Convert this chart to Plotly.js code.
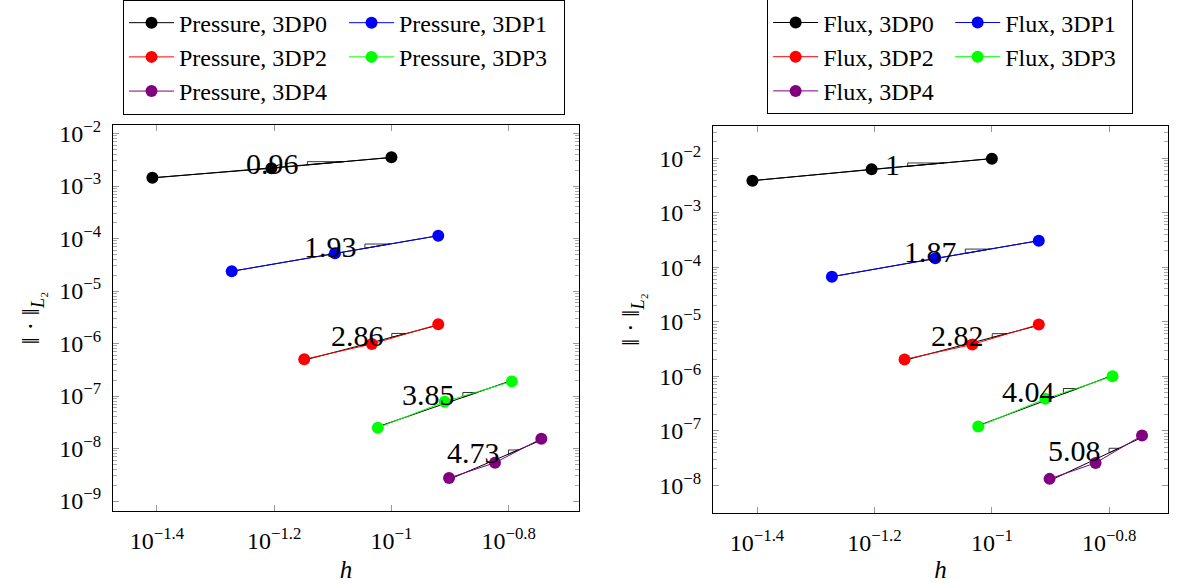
<!DOCTYPE html>
<html><head><meta charset="utf-8">
<script src="https://cdn.plot.ly/plotly-3.0.1.min.js"></script>
<style>
html,body{margin:0;padding:0;background:#fff;}
#wrap{display:flex;width:1178px;height:583px;}
#left,#right{width:589px;height:583px;}
</style>
</head><body>
<div id="wrap"><div id="left"></div><div id="right"></div></div>
<script>
// ---------- data ----------
const seriesNames = ['3DP0', '3DP1', '3DP2', '3DP3', '3DP4'];
const h0 = [0.0391, 0.0624, 0.1000];
const h1 = [0.0534, 0.0801, 0.1202];
const h2 = [0.0710, 0.0926, 0.1202];
const h3 = [0.0948, 0.1233, 0.1605];
const h4 = [0.1254, 0.1502, 0.1802];
const pressure0 = [1.44e-3, 2.17e-3, 3.52e-3];
const pressure1 = [2.37e-5, 5.22e-5, 1.13e-4];
const pressure2 = [5.0e-7, 9.77e-7, 2.32e-6];
const pressure3 = [2.49e-8, 7.79e-8, 1.90e-7];
const pressure4 = [2.74e-9, 5.37e-9, 1.54e-8];
const flux0 = [3.88e-3, 6.28e-3, 9.84e-3];
const flux1 = [6.7e-5, 1.46e-4, 3.07e-4];
const flux2 = [2.04e-6, 3.84e-6, 8.93e-6];
const flux3 = [1.20e-7, 3.85e-7, 1.00e-6];
const flux4 = [1.31e-8, 2.57e-8, 8.18e-8];
const pressureRates = ['0.96', '1.93', '2.86', '3.85', '4.73'];
const fluxRates = ['1', '1.87', '2.82', '4.04', '5.08'];
const xTickExp = ['−1.4', '−1.2', '−1', '−0.8'];
const xTickVals = [Math.pow(10, -1.4), Math.pow(10, -1.2), 0.1, Math.pow(10, -0.8)];

// ---------- style ----------
const colors = ['#000000', '#0000ff', '#ff0000', '#00ff00', '#800080'];
const FONT = 'Liberation Serif';
const triFrac = [[0.30, 0.60], [0.29, 0.53], [0.30, 0.52], [0.27, 0.48], [0.29, 0.50]];

const hs = [h0, h1, h2, h3, h4];
const L = Math.log10;

function fit(x, y) {
  const lx = x.map(L), ly = y.map(L), n = lx.length;
  const mx = lx.reduce((a, b) => a + b) / n, my = ly.reduce((a, b) => a + b) / n;
  let sxy = 0, sxx = 0;
  for (let i = 0; i < n; i++) { sxy += (lx[i] - mx) * (ly[i] - my); sxx += (lx[i] - mx) ** 2; }
  const b = sxy / sxx; return { a: my - b * mx, b: b };
}

function build(div, label, ys, rates, xr, yr, yDecades, margin, legendPos, entryW) {
  const traces = [], anns = [];
  ys.forEach((y, i) => {
    const h = hs[i], f = fit(h, y);
    const xs = [h[0], h[h.length - 1]];
    traces.push({ x: xs, y: xs.map(v => Math.pow(10, f.a + f.b * L(v))), mode: 'lines',
      line: { color: '#000', width: 1 }, showlegend: false, hoverinfo: 'skip' });
    const l2 = L(h[1]), l3 = L(h[2]);
    const xa = l2 + triFrac[i][0] * (l3 - l2), xb = l2 + triFrac[i][1] * (l3 - l2);
    const ya = f.a + f.b * xa, yb = f.a + f.b * xb;
    traces.push({ x: [xa, xa, xb, xa].map(v => Math.pow(10, v)), y: [ya, yb, yb, ya].map(v => Math.pow(10, v)),
      mode: 'lines', line: { color: '#000', width: 0.8 }, showlegend: false, hoverinfo: 'skip' });
    anns.push({ x: xa, y: (ya + yb) / 2, xref: 'x', yref: 'y', text: rates[i], showarrow: false,
      xanchor: 'right', yanchor: 'middle', xshift: -6, font: { family: FONT, size: 30, color: '#000' } });
  });
  ys.forEach((y, i) => {
    traces.push({ x: hs[i], y: y, mode: 'lines+markers', name: label + ', ' + seriesNames[i],
      line: { color: colors[i], width: 1 }, marker: { color: colors[i], size: 12 } });
  });
  const yTickVals = [], yTickText = [], minor = [];
  yDecades.forEach(k => {
    yTickVals.push(Math.pow(10, k)); yTickText.push('10<sup>−' + (-k) + '</sup>');
    for (let m = 2; m <= 9; m++) minor.push(m * Math.pow(10, k));
  });
  const layout = {
    width: 589, height: 583, margin: Object.assign({ autoexpand: false }, margin),
    paper_bgcolor: '#fff', plot_bgcolor: '#fff', showlegend: true,
    font: { family: FONT, color: '#000' },
    xaxis: { type: 'log', range: xr, tickmode: 'array', tickvals: xTickVals,
      ticktext: xTickExp.map(e => '10<sup>' + e + '</sup>'), ticks: 'inside', ticklen: 6,
      tickcolor: '#999', showgrid: false, zeroline: false, showline: true, linecolor: '#000',
      mirror: 'allticks', tickfont: { family: FONT, size: 24, color: '#000' }, ticklabelstandoff: 8,
      title: { text: '<i>h</i>', font: { family: FONT, size: 25, color: '#000' }, standoff: 10 } },
    yaxis: { type: 'log', range: yr, tickmode: 'array', tickvals: yTickVals, ticktext: yTickText,
      ticks: 'inside', ticklen: 6, tickcolor: '#999', showgrid: false, zeroline: false, showline: true,
      linecolor: '#000', mirror: 'allticks', tickfont: { family: FONT, size: 24, color: '#000' },
      ticklabelstandoff: 6,
      minor: { tickmode: 'array', tickvals: minor, ticks: 'inside', ticklen: 4, tickcolor: '#aaa', showgrid: false },
      title: { text: '‖ · ‖<sub><i>L</i>₂</sub>', font: { family: FONT, size: 26, color: '#000' }, standoff: 12 } },
    legend: { orientation: 'h', x: legendPos[0], y: legendPos[1], xanchor: 'left', yanchor: 'bottom',
      bordercolor: '#000', borderwidth: 1, bgcolor: '#fff', itemwidth: 45, entrywidth: entryW,
      font: { family: FONT, size: 24, color: '#000' }, tracegroupgap: 0 },
    annotations: anns
  };
  Plotly.newPlot(div, traces, layout, { staticPlot: true });
}

build('left', 'Pressure', [pressure0, pressure1, pressure2, pressure3, pressure4], pressureRates,
  [-1.475, -0.68], [-9.19, -1.838], [-2, -3, -4, -5, -6, -7, -8, -9],
  { l: 113, r: 10, t: 125, b: 72 }, [0.0215, 1.027], 160);
build('right', 'Flux', [flux0, flux1, flux2, flux3, flux4], fluxRates,
  [-1.475, -0.70], [-8.509, -1.407], [-2, -3, -4, -5, -6, -7, -8],
  { l: 124, r: 10, t: 126, b: 70 }, [0.119, 1.030], 122);
</script>
</body></html>
